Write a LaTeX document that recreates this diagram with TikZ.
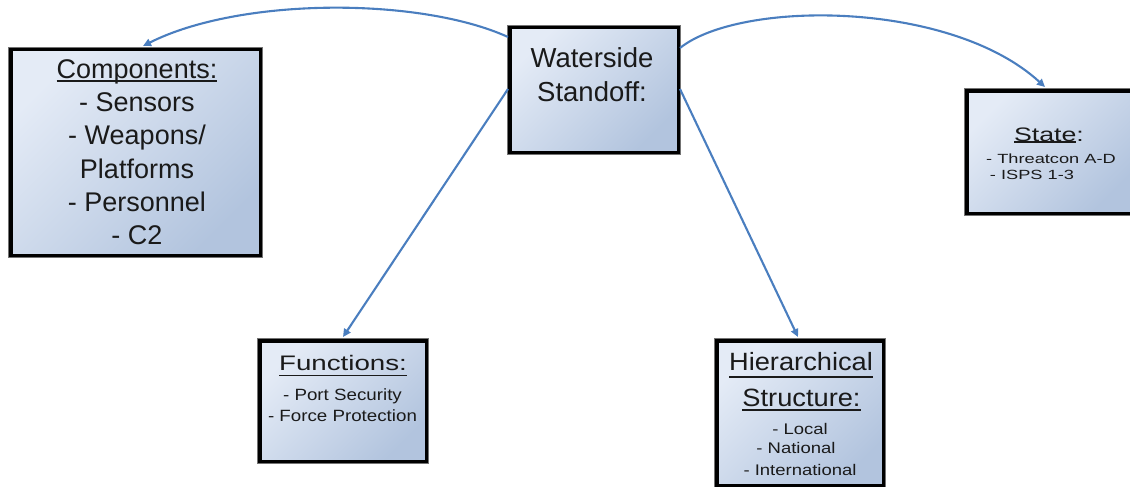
\documentclass[tikz,border=0pt]{standalone}
\usepackage{fontspec}
\setmainfont{Liberation Sans}
\newfontfamily\stfont[FakeStretch=1.37]{Liberation Sans}
\newfontfamily\fnAfont[FakeStretch=1.32]{Liberation Sans}
\newfontfamily\fnBfont[FakeStretch=1.15]{Liberation Sans}
\newfontfamily\hrAfont[FakeStretch=1.09]{Liberation Sans}
\newfontfamily\hrBfont[FakeStretch=1.2]{Liberation Sans}
\usetikzlibrary{arrows.meta}
\newsavebox\myulbox
\newcommand\myul[2][0.16em]{\sbox\myulbox{#2}\rlap{\rule[-#1]{\wd\myulbox}{0.08em}}\usebox\myulbox}
\definecolor{boxlight}{HTML}{E4EBF6}
\definecolor{boxdark}{HTML}{B2C4DE}
\definecolor{arrowblue}{HTML}{4A7EBF}
\definecolor{txtcol}{HTML}{1A1A1A}
\tikzset{
  box/.style={draw=black, line width=3.5pt, top color=boxlight, bottom color=boxdark,
    shading angle=45, inner sep=0pt, rectangle,
    preaction={draw=black!55, line width=5.5pt}},
  txt/.style={inner sep=0pt, anchor=base, text=txtcol},
  conn/.style={draw=arrowblue, line width=2.1pt, -{Triangle[length=8pt,width=7.5pt]}}
}
\begin{document}
\begin{tikzpicture}[x=1pt,y=-1pt]
\useasboundingbox (0,0) rectangle (1130,487);
% boxes
\node[box, minimum width=249.5pt, minimum height=205.5pt] (comp) at (135.5,152.5) {};
\node[box, minimum width=168.5pt, minimum height=124.5pt] (ws) at (594,90) {};
\node[box, minimum width=167pt, minimum height=122.5pt] (st) at (1050.5,152) {};
\node[box, minimum width=166.5pt, minimum height=120.5pt] (fn) at (343,401) {};
\node[box, minimum width=166.5pt, minimum height=144.5pt] (hr) at (800,413) {};
% connectors
\draw[conn] ([yshift=53pt]ws.west) .. controls (420,-3) and (240,-3) .. ([xshift=7.5pt,yshift=2pt]comp.north);
\draw[conn] ([yshift=42pt]ws.east) .. controls (740,0) and (950,0) .. ([xshift=-5.5pt,yshift=2pt]st.north);
\draw[conn] ([yshift=1pt]ws.west) -- ([yshift=2pt]fn.north);
\draw[conn] ([yshift=1pt]ws.east) -- ([xshift=-2pt,yshift=2pt]hr.north);
% Components text
\begin{scope}[every node/.append style={txt, font=\fontsize{27}{30}\selectfont}]
\node (c1) at (137,78) {\myul[0.15em]{Components:}};
\node (c2) at (137,111.3) {- Sensors};
\node (c3) at (137,144.6) {- Weapons/};
\node (c4) at (137,178) {Platforms};
\node (c5) at (137,211.2) {- Personnel};
\node (c6) at (137,244.5) {- C2};
\end{scope}
% Waterside text
\begin{scope}[every node/.append style={txt, font=\fontsize{27.5}{30}\selectfont}]
\node (w1) at (592,68) {Waterside};
\node (w2) at (592,102) {Standoff:};
\end{scope}
% State text
\node[txt, font=\stfont\fontsize{19.5}{22}\selectfont] (s1) at (1049,141) {\myul[0.1em]{State}:};
\node[txt, font=\stfont\fontsize{13.3}{16}\selectfont] (s2) at (1051,163.3) {- Threatcon A-D};
\node[txt, font=\stfont\fontsize{13.3}{16}\selectfont] (s3) at (1032,179.5) {- ISPS 1-3};
% Functions text
\node[txt, font=\fnAfont\fontsize{21}{24}\selectfont] (f1) at (343,370) {\myul[0.3em]{Functions:}};
\node[txt, font=\fnBfont\fontsize{16.3}{19}\selectfont] (f2) at (342.5,400) {- Port Security};
\node[txt, font=\fnBfont\fontsize{16.3}{19}\selectfont] (f3) at (342.5,421.7) {- Force Protection};
% Hierarchical text
\node[txt, font=\hrAfont\fontsize{25}{28}\selectfont] (h1) at (801,370) {\myul[0.3em]{Hierarchical}};
\node[txt, font=\hrAfont\fontsize{25}{28}\selectfont] (h2) at (801.5,406.7) {\myul[0.16em]{Structure:}};
\node[txt, font=\hrBfont\fontsize{15.4}{18}\selectfont] (h3) at (800,434) {- Local};
\node[txt, font=\hrBfont\fontsize{15.4}{18}\selectfont] (h4) at (796,453) {- National};
\node[txt, font=\hrBfont\fontsize{15.4}{18}\selectfont] (h5) at (800,475) {- International};
\end{tikzpicture}
\end{document}
